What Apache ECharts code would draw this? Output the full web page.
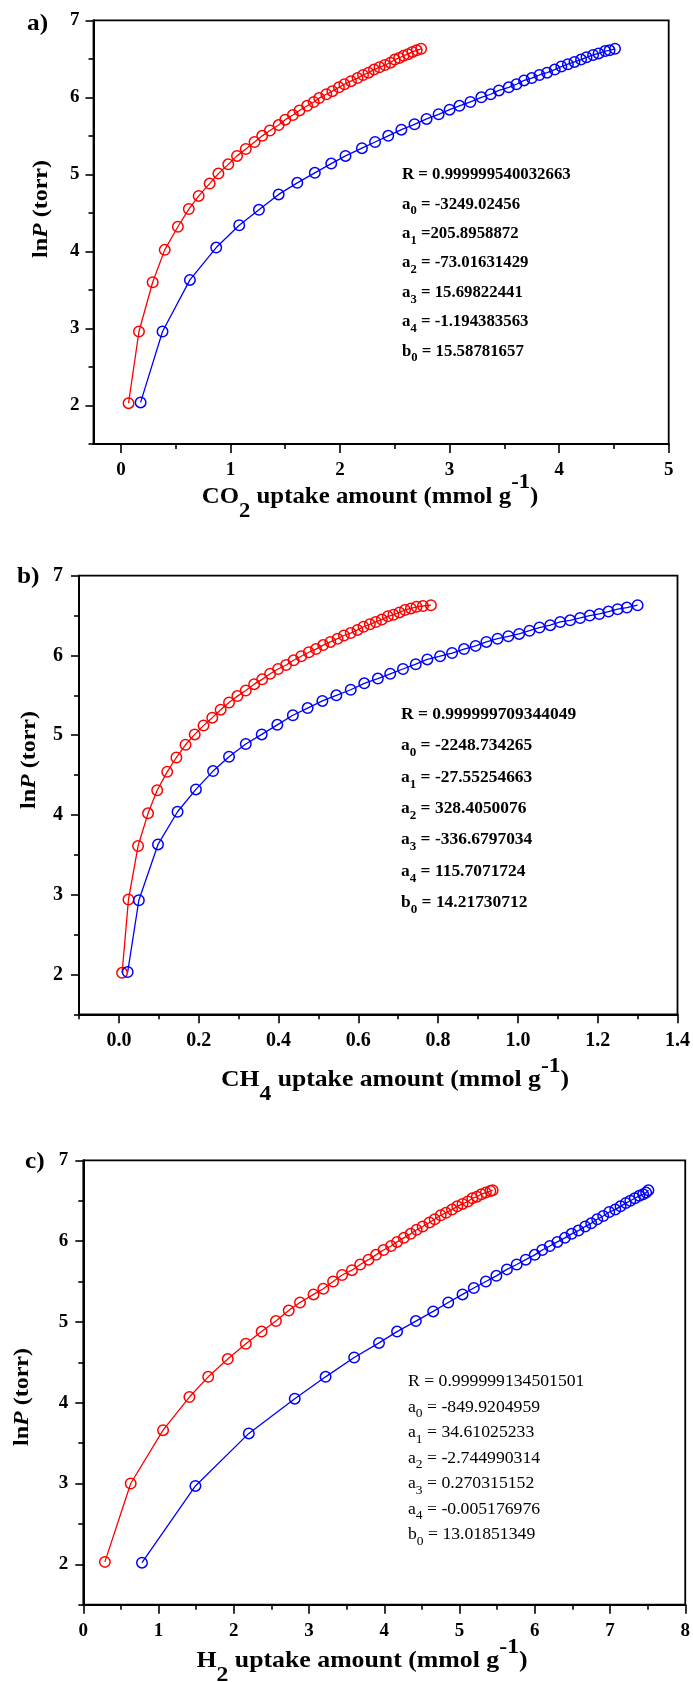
<!DOCTYPE html>
<html>
<head>
<meta charset="utf-8">
<script src="https://cdn.jsdelivr.net/npm/echarts@6/dist/echarts.min.js"></script>
<style>
html,body{margin:0;padding:0;background:#fff;}
#chart{width:693px;height:1682px;}
</style>
</head>
<body>
<div id="chart"></div>
<script>
// ---------- DATA ----------
// Panel a) CO2
const co2RedX = [0.07,0.165,0.29,0.40,0.52,0.62,0.71,0.81,0.89,0.98,1.06,1.14,1.22,1.29,1.36,1.44,1.50,1.57,1.63,1.70,1.76,1.81,1.875,1.93,1.99,2.04,2.10,2.16,2.21,2.26,2.31,2.36,2.41,2.46,2.50,2.54,2.58,2.62,2.66,2.70,2.74];
const co2RedY = [2.03,2.96,3.60,4.02,4.32,4.55,4.72,4.88,5.01,5.13,5.24,5.33,5.42,5.50,5.57,5.64,5.71,5.77,5.83,5.89,5.94,5.99,6.04,6.08,6.13,6.17,6.21,6.25,6.29,6.32,6.36,6.39,6.42,6.45,6.49,6.51,6.54,6.56,6.59,6.61,6.63];
const co2BlueX = [0.18,0.38,0.63,0.87,1.08,1.26,1.44,1.61,1.77,1.92,2.05,2.20,2.32,2.44,2.56,2.68,2.79,2.90,3.0,3.09,3.19,3.29,3.375,3.45,3.54,3.61,3.68,3.75,3.82,3.89,3.96,4.02,4.08,4.14,4.20,4.25,4.31,4.36,4.42,4.46,4.51];
const co2BlueY = [2.04,2.96,3.63,4.05,4.34,4.54,4.74,4.89,5.02,5.14,5.24,5.34,5.42,5.50,5.58,5.65,5.72,5.78,5.84,5.89,5.94,6.0,6.04,6.09,6.13,6.17,6.22,6.25,6.29,6.32,6.36,6.40,6.43,6.46,6.49,6.52,6.55,6.57,6.60,6.61,6.63];
// Panel b) CH4
const ch4RedX = [0.008,0.024,0.048,0.073,0.096,0.121,0.144,0.167,0.19,0.212,0.234,0.255,0.276,0.297,0.318,0.339,0.359,0.379,0.399,0.419,0.438,0.457,0.476,0.494,0.512,0.530,0.548,0.564,0.581,0.598,0.613,0.629,0.644,0.659,0.674,0.688,0.703,0.717,0.732,0.746,0.762,0.782];
const ch4RedY = [2.02,2.94,3.61,4.02,4.31,4.54,4.72,4.88,5.01,5.12,5.22,5.32,5.41,5.49,5.56,5.64,5.70,5.77,5.83,5.88,5.94,5.99,6.04,6.08,6.13,6.17,6.21,6.25,6.28,6.32,6.36,6.39,6.42,6.45,6.49,6.51,6.54,6.57,6.59,6.61,6.62,6.63];
const ch4BlueX = [0.022,0.05,0.098,0.147,0.193,0.236,0.276,0.318,0.358,0.397,0.436,0.473,0.51,0.545,0.581,0.615,0.649,0.68,0.712,0.744,0.773,0.805,0.835,0.865,0.894,0.921,0.949,0.976,1.003,1.029,1.054,1.081,1.106,1.131,1.156,1.18,1.204,1.227,1.25,1.273,1.30];
const ch4BlueY = [2.03,2.93,3.63,4.04,4.32,4.55,4.73,4.89,5.01,5.13,5.25,5.34,5.43,5.50,5.57,5.65,5.71,5.77,5.83,5.89,5.95,5.99,6.03,6.08,6.12,6.17,6.21,6.24,6.27,6.31,6.35,6.38,6.42,6.44,6.47,6.50,6.52,6.55,6.58,6.60,6.63];
// Panel c) H2
const h2RedX = [0.287,0.63,1.06,1.41,1.66,1.92,2.16,2.37,2.56,2.73,2.88,3.06,3.19,3.32,3.44,3.57,3.68,3.79,3.89,3.99,4.09,4.17,4.26,4.35,4.43,4.51,4.60,4.67,4.75,4.82,4.90,4.97,5.04,5.11,5.17,5.23,5.29,5.35,5.41,5.44];
const h2RedY = [2.03,3.0,3.66,4.07,4.32,4.54,4.73,4.88,5.01,5.14,5.24,5.34,5.41,5.50,5.58,5.64,5.71,5.77,5.83,5.89,5.94,5.99,6.04,6.09,6.14,6.18,6.23,6.27,6.32,6.35,6.39,6.43,6.46,6.49,6.53,6.55,6.58,6.60,6.62,6.63];
const h2BlueX = [0.78,1.49,2.20,2.81,3.22,3.60,3.93,4.17,4.42,4.65,4.85,5.04,5.19,5.35,5.49,5.63,5.76,5.88,6.0,6.10,6.20,6.30,6.40,6.49,6.58,6.67,6.75,6.83,6.91,6.99,7.07,7.14,7.21,7.27,7.33,7.39,7.44,7.48,7.51];
const h2BlueY = [2.02,2.97,3.62,4.05,4.32,4.56,4.74,4.88,5.01,5.13,5.24,5.34,5.42,5.50,5.57,5.65,5.71,5.77,5.83,5.89,5.94,5.99,6.04,6.09,6.13,6.18,6.22,6.27,6.31,6.36,6.39,6.43,6.47,6.50,6.53,6.56,6.58,6.60,6.63];

// Tick values
const yMajorTicks = [2,3,4,5,6,7];
const yMinorTicks = [1.5,2.5,3.5,4.5,5.5,6.5];
const co2MajorTicks = [0,1,2,3,4,5];
const co2MinorTicks = [0.5,1.5,2.5,3.5,4.5];
const ch4MajorTicks = [0,0.2,0.4,0.6,0.8,1.0,1.2,1.4];
const ch4MinorTicks = [-0.1,0.1,0.3,0.5,0.7,0.9,1.1,1.3];
const h2MajorTicks = [0,1,2,3,4,5,6,7,8];
const h2MinorTicks = [0.5,1.5,2.5,3.5,4.5,5.5,6.5,7.5];

// Fit parameter texts
const co2Params = [['R','',' = 0.999999540032663'],['a','0',' = -3249.02456'],['a','1',' =205.8958872'],['a','2',' = -73.01631429'],['a','3',' = 15.69822441'],['a','4',' = -1.194383563'],['b','0',' = 15.58781657']];
const ch4Params = [['R','',' = 0.999999709344049'],['a','0',' = -2248.734265'],['a','1',' = -27.55254663'],['a','2',' = 328.4050076'],['a','3',' = -336.6797034'],['a','4',' = 115.7071724'],['b','0',' = 14.21730712']];
const h2Params = [['R','',' = 0.999999134501501'],['a','0',' = -849.9204959'],['a','1',' = 34.61025233'],['a','2',' = -2.744990314'],['a','3',' = 0.270315152'],['a','4',' = -0.005176976'],['b','0',' = 13.01851349']];

// ---------- BUILD ----------
const FONT = '"Liberation Serif","Times New Roman",serif';
const zip = (xs, ys) => xs.map((x, i) => [x, ys[i]]);

const panels = [
  {grid:{left:93.5, top:20.3, width:575.2, height:423.7}, xMin:-0.25, xMax:5, xMaj:co2MajorTicks, xMin2:co2MinorTicks, fmt:v=>String(v),
   lblSize:19, xMargin:17, yMargin:14, red:zip(co2RedX,co2RedY), blue:zip(co2BlueX,co2BlueY)},
  {grid:{left:79, top:575.7, width:599, height:438.6}, xMin:-0.1, xMax:1.4, xMaj:ch4MajorTicks, xMin2:ch4MinorTicks, fmt:v=>v.toFixed(1),
   lblSize:20, xMargin:17, yMargin:16, red:zip(ch4RedX,ch4RedY), blue:zip(ch4BlueX,ch4BlueY)},
  {grid:{left:83.3, top:1160.3, width:604.7, height:444.4}, xMin:0, xMax:8, xMaj:h2MajorTicks, xMin2:h2MinorTicks, fmt:v=>String(v),
   lblSize:19, xMargin:17, yMargin:15, red:zip(h2RedX,h2RedY), blue:zip(h2BlueX,h2BlueY)}
];

const grid = [], xAxis = [], yAxis = [], series = [];
panels.forEach((p, i) => {
  grid.push(Object.assign({show:true, borderColor:'#000', borderWidth:1.8, backgroundColor:'transparent', containLabel:false}, p.grid));
  const lineSt = {show:true, onZero:false, lineStyle:{color:'#000', width:2}};
  const tickSt = {color:'#000', width:1.6};
  xAxis.push({type:'value', gridIndex:i, position:'bottom', min:p.xMin, max:p.xMax, splitLine:{show:false},
    axisLine:lineSt,
    axisTick:{show:true, customValues:p.xMaj, length:9, lineStyle:tickSt},
    axisLabel:{show:true, customValues:p.xMaj, formatter:p.fmt, margin:p.xMargin, color:'#000', fontFamily:FONT, fontWeight:'bold', fontSize:p.lblSize}});
  xAxis.push({type:'value', gridIndex:i, position:'bottom', min:p.xMin, max:p.xMax, splitLine:{show:false},
    axisLine:{show:false, onZero:false},
    axisTick:{show:true, customValues:p.xMin2, length:5, lineStyle:tickSt},
    axisLabel:{show:false}});
  yAxis.push({type:'value', gridIndex:i, position:'left', min:1.5, max:7, splitLine:{show:false},
    axisLine:lineSt,
    axisTick:{show:true, customValues:yMajorTicks, length:8, lineStyle:tickSt},
    axisLabel:{show:true, customValues:yMajorTicks, margin:p.yMargin, color:'#000', fontFamily:FONT, fontWeight:'bold', fontSize:p.lblSize}});
  yAxis.push({type:'value', gridIndex:i, position:'left', min:1.5, max:7, splitLine:{show:false},
    axisLine:{show:false, onZero:false},
    axisTick:{show:true, customValues:yMinorTicks, length:5, lineStyle:tickSt},
    axisLabel:{show:false}});
  [['red','#ff0000'],['blue','#0000ff']].forEach(([k, col]) => {
    series.push({type:'line', xAxisIndex:2*i, yAxisIndex:2*i, data:p[k], symbol:'circle', symbolSize:10.5,
      showSymbol:true, showAllSymbol:true, smooth:false, z:3,
      lineStyle:{color:col, width:1.3},
      itemStyle:{color:'rgba(0,0,0,0)', borderColor:col, borderWidth:1.5}});
  });
});

// ---------- TEXT ----------
function paramText(params, x, y0, step, weight, size, sx) {
  return params.map((p, j) => ({
    type:'text', x:x, y:y0 + j*step, z:10, scaleX:sx,
    style:{
      text:'{t|' + p[0] + '}' + (p[1] ? '{s|' + p[1] + '}' : '') + '{t|' + p[2] + '}',
      align:'left', verticalAlign:'middle',
      rich:{
        t:{fontFamily:FONT, fontWeight:weight, fontSize:size, lineHeight:26, verticalAlign:'middle', fill:'#000', color:'#000'},
        s:{fontFamily:FONT, fontWeight:weight, fontSize:Math.round(size*0.75), lineHeight:12, verticalAlign:'bottom', fill:'#000', color:'#000'}
      }
    }
  }));
}
function axRich(sz) {
  return {
    n:{fontFamily:FONT, fontWeight:'bold', fontSize:sz, lineHeight:50, verticalAlign:'middle', color:'#000', fill:'#000'},
    sub:{fontFamily:FONT, fontWeight:'bold', fontSize:sz-2, lineHeight:sz-2, verticalAlign:'bottom', color:'#000', fill:'#000'},
    sup:{fontFamily:FONT, fontWeight:'bold', fontSize:sz-2, lineHeight:sz-2, verticalAlign:'top', color:'#000', fill:'#000'}
  };
}
const yRich = {
  b:{fontFamily:FONT, fontWeight:'bold', fontSize:20, color:'#000', fill:'#000'},
  i:{fontFamily:FONT, fontWeight:'bold', fontStyle:'italic', fontSize:20, color:'#000', fill:'#000'}
};
function xTitle(gas, sub, cx, cy, sz, sx) {
  return {type:'text', x:cx, y:cy, z:10, scaleX:sx,
    style:{text:'{n|' + gas + '}{sub|' + sub + '}{n| uptake amount (mmol g}{sup|-1}{n|)}', align:'center', verticalAlign:'middle', rich:axRich(sz)}};
}
function yTitle(cx, cy) {
  return {type:'text', x:cx, y:cy, rotation:Math.PI/2, scaleX:1.2, z:10,
    style:{text:'{b|ln}{i|P}{b| (torr)}', align:'center', verticalAlign:'middle', rich:yRich}};
}
function panelLabel(t, x, y) {
  return {type:'text', x:x, y:y, z:10, scaleX:1.1,
    style:{text:t, align:'left', verticalAlign:'middle', fontFamily:FONT, fontWeight:'bold', fontSize:23, fill:'#000'}};
}

const graphic = [].concat(
  paramText(co2Params, 402, 175, 29.4, 'bold', 16, 1.05),
  paramText(ch4Params, 401, 715, 31.3, 'bold', 16, 1.09),
  paramText(h2Params, 408, 1382, 25.5, 'normal', 17, 1.04),
  [xTitle('CO', '2', 370, 497, 23, 1.08), xTitle('CH', '4', 395, 1080, 24, 1.07), xTitle('H', '2', 362, 1661, 24, 1.075),
   yTitle(42, 209), yTitle(30, 760), yTitle(23, 1397),
   panelLabel('a)', 27, 24), panelLabel('b)', 17, 577), panelLabel('c)', 25, 1162)]
);

const chart = echarts.init(document.getElementById('chart'), null, {renderer:'canvas'});
chart.setOption({animation:false, backgroundColor:'#fff', grid, xAxis, yAxis, series, graphic});
</script>
</body>
</html>
